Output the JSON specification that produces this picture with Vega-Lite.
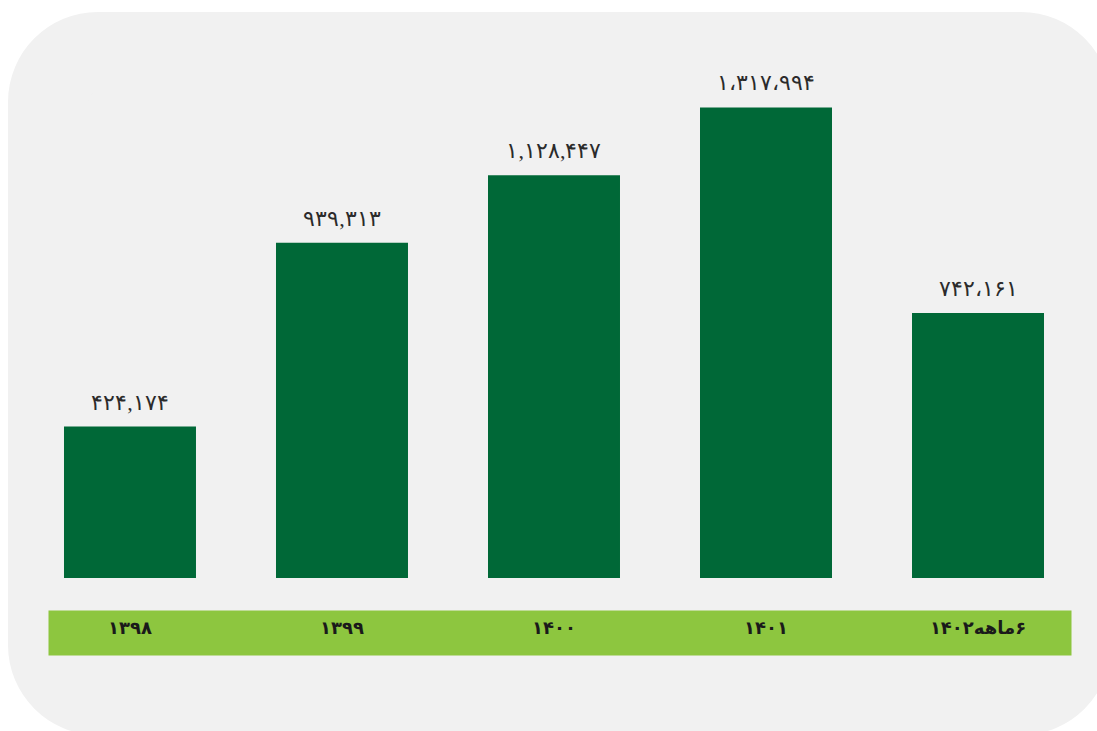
{
  "$schema": "https://vega.github.io/schema/vega-lite/v6.json",
  "width": 1023,
  "height": 643,
  "autosize": {"type": "none"},
  "padding": {"left": 48, "top": 52, "right": 26, "bottom": 36},
  "background": "#ffffff",
  "config": {
    "view": {"fill": "#f1f1f1", "stroke": "#f1f1f1", "strokeWidth": 80, "cornerRadius": 50},
    "font": "DejaVu Sans"
  },
  "data": {
    "values": [
      {"year": "۱۳۹۸", "value": 424174, "label": "۴۲۴,۱۷۴"},
      {"year": "۱۳۹۹", "value": 939313, "label": "۹۳۹,۳۱۳"},
      {"year": "۱۴۰۰", "value": 1128447, "label": "۱,۱۲۸,۴۴۷"},
      {"year": "۱۴۰۱", "value": 1317994, "label": "۱،۳۱۷،۹۹۴"},
      {"year": "\u202B۶ماهه۱۴۰۲\u202C", "value": 742161, "label": "۷۴۲،۱۶۱"}
    ]
  },
  "resolve": {"axis": {"x": "independent"}},
  "layer": [
    {
      "mark": {"type": "bar", "color": "#006837"},
      "encoding": {
        "x": {
          "field": "year",
          "type": "nominal",
          "sort": null,
          "scale": {"paddingInner": 0.3774, "paddingOuter": 0.1014, "align": 0.372},
          "axis": {
            "title": null,
            "orient": "bottom",
            "offset": -62.5,
            "domain": true,
            "domainColor": "#8dc63f",
            "domainWidth": 45,
            "domainCap": "butt",
            "ticks": false,
            "labels": false,
            "grid": false,
            "zindex": 0
          }
        },
        "y": {
          "field": "value",
          "type": "quantitative",
          "scale": {"domain": [-327731, 1473389], "nice": false, "zero": false},
          "axis": null
        },
        "y2": {"datum": 0}
      }
    },
    {
      "mark": {"type": "text", "baseline": "bottom", "dy": -12, "fontSize": 22, "color": "#2b2b2b", "font": "DejaVu Sans ExtraLight"},
      "encoding": {
        "x": {
          "field": "year",
          "type": "nominal",
          "sort": null,
          "axis": {
            "title": null,
            "orient": "bottom",
            "offset": -62.5,
            "domain": false,
            "ticks": false,
            "labelPadding": -4,
            "labelBaseline": "middle",
            "labelAngle": 0,
            "labelFont": "DejaVu Sans",
            "labelFontSize": 18,
            "labelFontWeight": "bold",
            "labelColor": "#1a1a1a",
            "grid": false,
            "zindex": 2
          }
        },
        "y": {"field": "value", "type": "quantitative"},
        "text": {"field": "label"}
      }
    }
  ]
}
